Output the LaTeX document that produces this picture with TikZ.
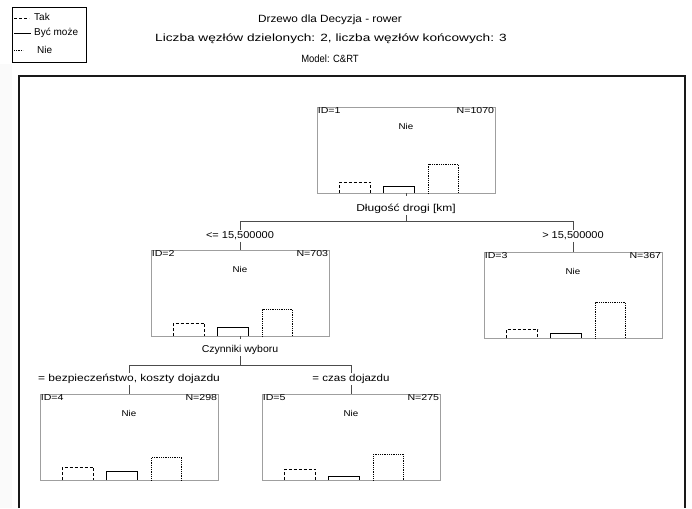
\documentclass[tikz,border=0pt]{standalone}
\usepackage{fontspec}
\setmainfont{Liberation Sans}
\usetikzlibrary{calc}
\newcommand{\wid}[2]{\scalebox{#1}[1]{#2}}
\begin{document}
\begin{tikzpicture}[x=1pt,y=-1pt,
  nodebox/.style={draw=gray!75, line width=0.7pt, minimum width=178pt, minimum height=86pt, inner sep=0pt},
  idtxt/.style={font=\fontsize{8.5}{9}\selectfont, inner sep=1pt},
  lbl/.style={font=\fontsize{10}{11}\selectfont, inner sep=1.5pt},
  ttl/.style={font=\fontsize{10.5}{12}\selectfont, inner sep=0pt},
  legtxt/.style={font=\fontsize{10}{12}\selectfont, inner sep=0pt},
  conn/.style={draw=gray!60!black, line width=0.6pt},
  barA/.style={densely dashed, line width=0.7pt},
  barB/.style={line width=0.8pt},
  barC/.style={densely dotted, line width=0.8pt}
]
\useasboundingbox (0,0) rectangle (692,508);
\fill[gray!4] (0,64) rectangle (12,508);
% outer frame
\draw[line width=1.4pt, gray!20!black] (19,508) -- (19,76) -- (685,76) -- (685,508);
% legend
\node[draw=black, line width=0.6pt, minimum width=74pt, minimum height=55pt, inner sep=0pt] (leg) at (49,34.5) {};
\coordinate (la1) at (14,18); \coordinate (la2) at (29,18);
\coordinate (lb1) at (14,33); \coordinate (lb2) at (31,33);
\coordinate (lc1) at (14,50); \coordinate (lc2) at (23,50);
\draw[barA] (la1) -- (la2);
\draw[barB] (lb1) -- (lb2);
\draw[barC] (lc1) -- (lc2);
\node[legtxt, anchor=west] (lt1) at (34,17) {Tak};
\node[legtxt, anchor=west] (lt2) at (34,33) {Być może};
\node[legtxt, anchor=west] (lt3) at (37,50) {Nie};
% titles
\node[ttl] (t1) at (330,20) {\wid{1.12}{Drzewo dla Decyzja - rower}};
\node[ttl] (t2) at (331,39) {\wid{1.3}{Liczba węzłów dzielonych: 2, liczba węzłów końcowych: 3}};
\node[ttl] (t3) at (330,59) {\wid{0.9}{Model: C\&RT}};
% histogram macro
\newcommand{\myhist}[4]{%
  \draw[barA] ($(#1.south west)+(23,0)$) -- ++(0,-#2) -- ++(31,0) -- ++(0,#2);
  \draw[barB] ($(#1.south west)+(67,0)$) -- ++(0,-#3) -- ++(31,0) -- ++(0,#3);
  \draw[barC] ($(#1.south west)+(112,0)$) -- ++(0,-#4) -- ++(30,0) -- ++(0,#4);
}
\newcommand{\myinfo}[4]{%
  \node[idtxt, anchor=north west] (#1id) at (#1.north west) {\wid{1.25}{ID=#2}};
  \node[idtxt, anchor=north east] (#1n) at (#1.north east) {\wid{1.25}{N=#3}};
  \node[idtxt] (#1c) at ($(#1.north)+(0,20)$) {\wid{1.15}{#4}};
}
% nodes
\node[nodebox] (n1) at (406,150) {};
\node[nodebox] (n2) at (240,293) {};
\node[nodebox] (n3) at (573,295) {};
\node[nodebox] (n4) at (129,437) {};
\node[nodebox] (n5) at (351,437) {};
\myinfo{n1}{1}{1070}{Nie}
\myinfo{n2}{2}{703}{Nie}
\myinfo{n3}{3}{367}{Nie}
\myinfo{n4}{4}{298}{Nie}
\myinfo{n5}{5}{275}{Nie}
\myhist{n1}{11}{7}{29}
\myhist{n2}{13}{9}{27}
\myhist{n3}{9}{5}{36}
\myhist{n4}{13}{9}{23}
\myhist{n5}{11}{4}{26}
% split labels
\node[lbl] (s1) at (406,209) {\wid{1.2}{Długość drogi [km]}};
\node[lbl] (e2) at (240,236) {\wid{1.1}{<= 15,500000}};
\node[lbl] (e3) at (573,236) {\wid{1.1}{> 15,500000}};
\node[lbl] (s2) at (240,350) {\wid{1.05}{Czynniki wyboru}};
\node[lbl] (e4) at (129,379) {\wid{1.2}{= bezpieczeństwo, koszty dojazdu}};
\node[lbl] (e5) at (351,379) {\wid{1.15}{= czas dojazdu}};
\coordinate (b1) at (406,221);
\coordinate (b2) at (240,365);
% connectors
\draw[conn] (n1.south) -- ++(0,3);
\draw[conn] (s1.south) -- (b1);
\draw[conn] (e2.north) -- (e2.north |- b1) -- (e3.north |- b1) -- (e3.north);
\draw[conn] (e2.south) -- (n2.north);
\draw[conn] (e3.south) -- (n3.north);
\draw[conn] (n2.south) -- ++(0,3);
\draw[conn] (s2.south) -- (b2);
\draw[conn] (e4.north) -- (e4.north |- b2) -- (e5.north |- b2) -- (e5.north);
\draw[conn] (e4.south) -- (n4.north);
\draw[conn] (e5.south) -- (n5.north);
\end{tikzpicture}
\end{document}
